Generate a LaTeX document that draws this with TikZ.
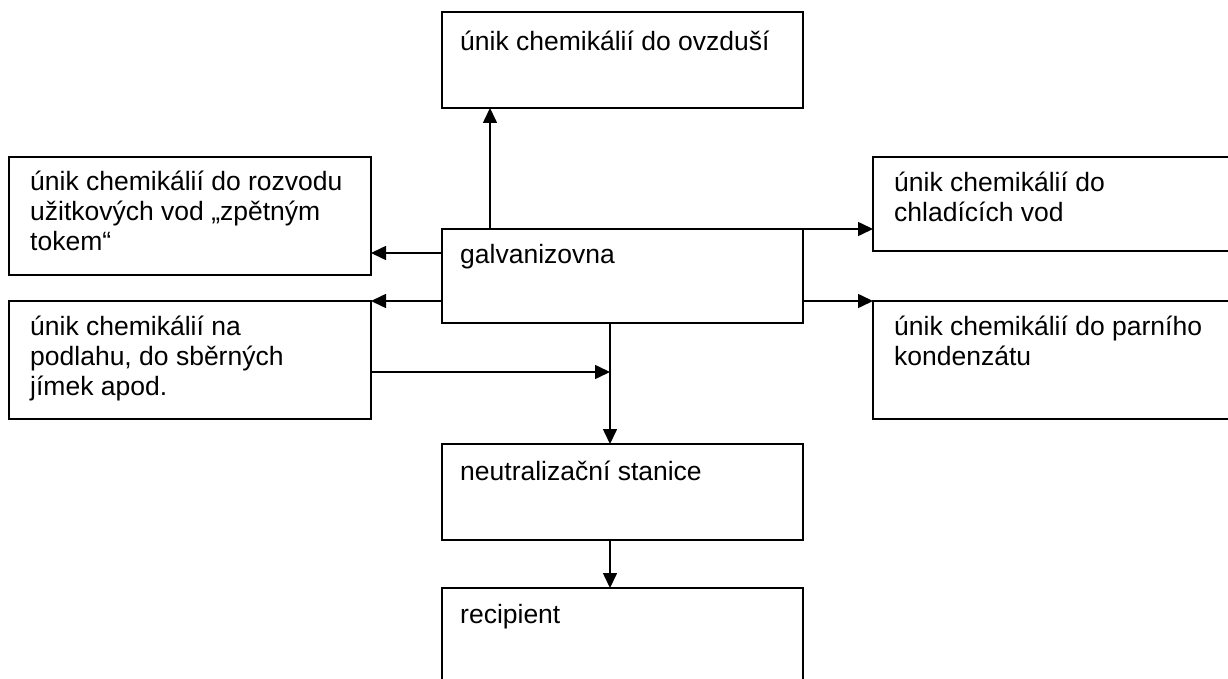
\documentclass[tikz,border=0pt]{standalone}
\usepackage{fontspec}
\setmainfont{Liberation Sans}
\usetikzlibrary{arrows.meta,calc}
\begin{document}
\begin{tikzpicture}[x=1pt,y=-1pt,
  box/.style={draw=black, line width=1.6pt, rectangle, anchor=north west, inner sep=0pt, outer sep=0pt},
  txt/.style={anchor=north west, inner sep=0pt, align=left,
    font=\fontsize{26.5}{30}\selectfont},
  arr/.style={line width=1.6pt, -{Triangle[length=15pt,width=14pt]}}]
\useasboundingbox (0,0) rectangle (1228,679);
\clip (0,0) rectangle (1228,679);

% boxes
\node[box, minimum width=361pt, minimum height=96pt]  (air)     at (442,12)  {};
\node[box, minimum width=362pt, minimum height=118pt] (rozvod)  at (9,157)   {};
\node[box, minimum width=362pt, minimum height=118pt] (podlaha) at (9,301)   {};
\node[box, minimum width=361pt, minimum height=94pt]  (galv)    at (442,229) {};
\node[box, minimum width=370pt, minimum height=94pt]  (chlad)   at (873,157) {};
\node[box, minimum width=370pt, minimum height=118pt] (parni)   at (873,301) {};
\node[box, minimum width=361pt, minimum height=96pt]  (neutr)   at (442,444) {};
\node[box, minimum width=361pt, minimum height=110pt] (recip)   at (442,588) {};

% labels (first baseline placed below each box's top edge)
\node[txt] (t-air)     at ($(air.north west)+(18,11.5)$)     {\rule{0pt}{26.5pt}únik chemikálií do ovzduší};
\node[txt] (t-rozvod)  at ($(rozvod.north west)+(21,7)$)     {\rule{0pt}{26.5pt}únik chemikálií do rozvodu\\užitkových vod „zpětným\\tokem“};
\node[txt] (t-podlaha) at ($(podlaha.north west)+(21,7.5)$)  {\rule{0pt}{26.5pt}únik chemikálií na\\podlahu, do sběrných\\jímek apod.};
\node[txt] (t-galv)    at ($(galv.north west)+(18,7.5)$)     {\rule{0pt}{26.5pt}galvanizovna};
\node[txt] (t-chlad)   at ($(chlad.north west)+(21,8)$)      {\rule{0pt}{26.5pt}únik chemikálií do\\chladících vod};
\node[txt] (t-parni)   at ($(parni.north west)+(21,7.5)$)    {\rule{0pt}{26.5pt}únik chemikálií do parního\\kondenzátu};
\node[txt] (t-neutr)   at ($(neutr.north west)+(18,9.5)$)    {\rule{0pt}{26.5pt}neutralizační stanice};
\node[txt] (t-recip)   at ($(recip.north west)+(18,8.5)$)    {\rule{0pt}{26.5pt}recipient};

% connectors
\coordinate (up)   at ($(galv.north west)+(48,0)$);
\coordinate (down) at ($(galv.south west)+(168,0)$);
\coordinate (lft)  at ($(galv.north west)+(0,24)$);
\coordinate (flr)  at ($(podlaha.north east)+(0,71)$);

\draw[arr] (up) -- (up |- air.south);
\draw[arr] (galv.north east) -- (galv.north east -| chlad.west);
\draw[arr] (galv.east |- parni.north) -- (parni.north west);
\draw[arr] (lft) -- (lft -| rozvod.east);
\draw[arr] (galv.west |- podlaha.north) -- (podlaha.north east);
\draw[arr] (down) -- (down |- neutr.north);
\draw[arr] (flr) -- (flr -| down);
\draw[arr] (down |- neutr.south) -- (down |- recip.north);
\end{tikzpicture}
\end{document}
